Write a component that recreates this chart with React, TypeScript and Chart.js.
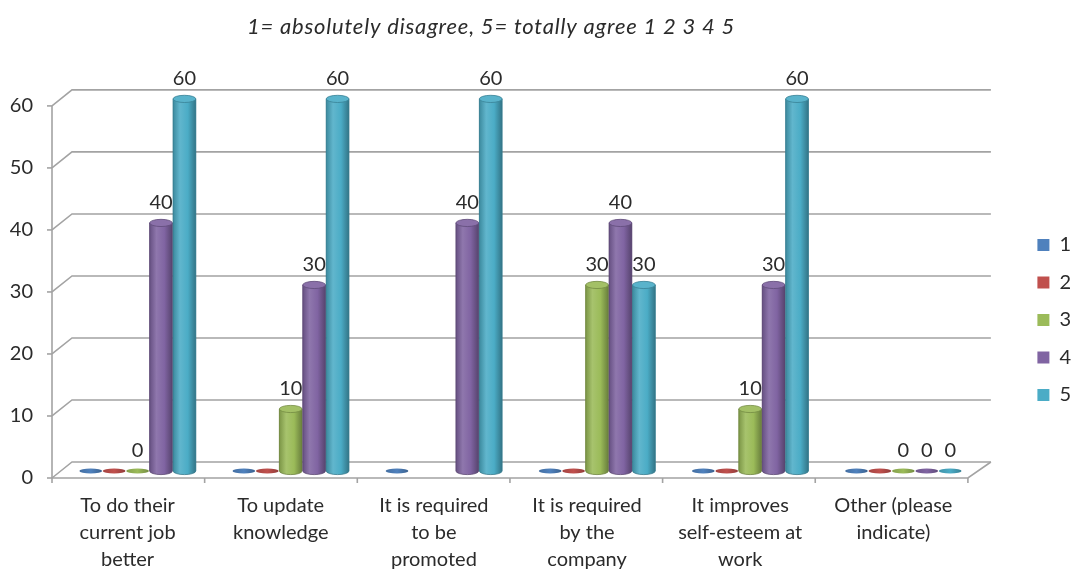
import React, { useEffect, useRef } from "react";
import { Chart, registerables } from "chart.js";

Chart.register(...registerables);

// ---- data ----
const titleText = "1= absolutely disagree, 5= totally agree 1 2 3 4 5";

const categories: string[][] = [
  ["To do their", "current job", "better"],
  ["To update", "knowledge"],
  ["It is required", "to be", "promoted"],
  ["It is required", "by the", "company"],
  ["It improves", "self-esteem at", "work"],
  ["Other (please", "indicate)"],
];

const seriesNames = ["1", "2", "3", "4", "5"];

const series1: (number | null)[] = [0, 0, 0, 0, 0, 0];
const series2: (number | null)[] = [0, 0, null, 0, 0, 0];
const series3: (number | null)[] = [0, 10, null, 30, 10, 0];
const series4: (number | null)[] = [40, 30, 40, 40, 30, 0];
const series5: (number | null)[] = [60, 60, 60, 30, 60, 0];

// which values carry a printed value label
const labelled1 = [false, false, false, false, false, false];
const labelled2 = [false, false, false, false, false, false];
const labelled3 = [true, true, false, true, true, true];
const labelled4 = [true, true, true, true, true, true];
const labelled5 = [true, true, true, true, true, true];

const yTicks = [0, 10, 20, 30, 40, 50, 60];

const seriesColors = ["#4F81BD", "#C0504D", "#9BBB59", "#8064A2", "#4BACC6"];

// ---- styling ----
const FONT = "Lato, 'Open Sans', sans-serif";
const TEXT = "#2b2b2b";
const GRID = "#a3a3a3";

function mix(hex: string, target: number, t: number) {
  const n = parseInt(hex.slice(1), 16);
  const r = (n >> 16) & 255;
  const g = (n >> 8) & 255;
  const b = n & 255;
  const f = (c: number) => Math.round(c + (target - c) * t);
  return `rgb(${f(r)},${f(g)},${f(b)})`;
}
const lighten = (h: string, t: number) => mix(h, 255, t);
const darken = (h: string, t: number) => mix(h, 0, t);

// 3D box offsets around the plot area
const FRONT_LEFT = -9;
const FRONT_RIGHT = -12;
const BACK_SHIFT = 11;
const FRONT_DY = 7;
const BACK_DY = -9;

const wallPlugin = {
  id: "wall3d",
  beforeDatasetsDraw(chart: any) {
    const { ctx, chartArea: a, scales } = chart;
    const y = scales.y;
    const fl = a.left + FRONT_LEFT;
    const fr = a.right + FRONT_RIGHT;
    const bl = a.left + BACK_SHIFT;
    const br = a.right + BACK_SHIFT;
    ctx.save();
    ctx.strokeStyle = GRID;
    ctx.lineWidth = 1.6;
    ctx.lineCap = "butt";
    yTicks.forEach((v) => {
      const p = y.getPixelForValue(v);
      ctx.beginPath();
      ctx.moveTo(fl, p + FRONT_DY);
      ctx.lineTo(bl, p + BACK_DY);
      ctx.lineTo(br, p + BACK_DY);
      ctx.stroke();
      ctx.beginPath();
      ctx.moveTo(fl - 5, p + FRONT_DY);
      ctx.lineTo(fl, p + FRONT_DY);
      ctx.stroke();
    });
    const p0 = y.getPixelForValue(0);
    const pTop = y.getPixelForValue(yTicks[yTicks.length - 1]);
    // front vertical axis
    ctx.beginPath();
    ctx.moveTo(fl, pTop + FRONT_DY);
    ctx.lineTo(fl, p0 + FRONT_DY);
    ctx.stroke();
    // floor front and right edges
    ctx.beginPath();
    ctx.moveTo(fl, p0 + FRONT_DY);
    ctx.lineTo(fr, p0 + FRONT_DY);
    ctx.lineTo(br, p0 + BACK_DY);
    ctx.stroke();
    // category separators on the floor edge
    const n = categories.length;
    for (let i = 0; i <= n; i++) {
      const px = a.left + (a.width * i) / n;
      const fx = fl + ((px - a.left) * (fr - fl)) / a.width;
      ctx.beginPath();
      ctx.moveTo(fx, p0 + FRONT_DY);
      ctx.lineTo(fx, p0 + FRONT_DY + 5);
      ctx.stroke();
    }
    ctx.restore();
  },
};

const labelSets = [labelled1, labelled2, labelled3, labelled4, labelled5];

const cylinderPlugin = {
  id: "cylinders",
  afterDatasetsDraw(chart: any) {
    const { ctx } = chart;
    ctx.save();
    chart.data.datasets.forEach((ds: any, di: number) => {
      const meta = chart.getDatasetMeta(di);
      if (meta.hidden) return;
      const base = seriesColors[di];
      meta.data.forEach((bar: any, j: number) => {
        const v = ds.data[j];
        if (v === null || v === undefined) return;
        const { x, y, base: b, width } = bar.getProps(["x", "y", "base", "width"], true);
        const rx = width / 2;
        const ry = 3.6;
        if (v === 0) {
          ctx.beginPath();
          ctx.ellipse(x, b, rx, 2.6, 0, 0, Math.PI * 2);
          const g = ctx.createLinearGradient(x - rx, 0, x + rx, 0);
          g.addColorStop(0, darken(base, 0.15));
          g.addColorStop(0.5, base);
          g.addColorStop(1, darken(base, 0.25));
          ctx.fillStyle = g;
          ctx.fill();
          return;
        }
        // body with rounded bottom
        const g = ctx.createLinearGradient(x - rx, 0, x + rx, 0);
        g.addColorStop(0, darken(base, 0.2));
        g.addColorStop(0.3, lighten(base, 0.12));
        g.addColorStop(0.65, base);
        g.addColorStop(1, darken(base, 0.32));
        ctx.beginPath();
        ctx.moveTo(x - rx, y);
        ctx.lineTo(x - rx, b);
        ctx.ellipse(x, b, rx, ry, 0, Math.PI, 0, true);
        ctx.lineTo(x + rx, y);
        ctx.closePath();
        ctx.fillStyle = g;
        ctx.fill();
        ctx.strokeStyle = darken(base, 0.3);
        ctx.lineWidth = 0.8;
        ctx.stroke();
        // top cap
        ctx.beginPath();
        ctx.ellipse(x, y, rx, ry, 0, 0, Math.PI * 2);
        ctx.fillStyle = lighten(base, 0.08);
        ctx.fill();
        ctx.strokeStyle = darken(base, 0.25);
        ctx.stroke();
      });
    });
    // value labels
    ctx.font = `20px ${FONT}`;
    ctx.fillStyle = TEXT;
    ctx.textAlign = "center";
    ctx.textBaseline = "middle";
    chart.data.datasets.forEach((ds: any, di: number) => {
      const meta = chart.getDatasetMeta(di);
      meta.data.forEach((bar: any, j: number) => {
        const v = ds.data[j];
        if (v === null || v === undefined || !labelSets[di][j]) return;
        const { x, y } = bar.getProps(["x", "y"], true);
        ctx.fillText(String(v), x, y - 20);
      });
    });
    ctx.restore();
  },
  afterDraw(chart: any) {
    const { ctx } = chart;
    ctx.save();
    ctx.font = `italic 22px ${FONT}`;
    (ctx as any).letterSpacing = "0.8px";
    ctx.fillStyle = TEXT;
    ctx.textAlign = "center";
    ctx.textBaseline = "middle";
    ctx.fillText(titleText, 491, 27);
    ctx.restore();
  },
};

export default function App() {
  const canvasRef = useRef<HTMLCanvasElement | null>(null);

  useEffect(() => {
    if (!canvasRef.current) return;
    const allSeries = [series1, series2, series3, series4, series5];
    const chart = new Chart(canvasRef.current, {
      type: "bar",
      data: {
        labels: categories,
        datasets: allSeries.map((d, i) => ({
          label: seriesNames[i],
          data: d,
          backgroundColor: seriesColors[i],
          borderWidth: 0,
          barPercentage: 0.97,
          categoryPercentage: 0.765,
        })),
      },
      options: {
        responsive: false,
        animation: false,
        devicePixelRatio: 1,
        layout: { padding: { top: 71, right: 0, bottom: 0, left: 0 } },
        plugins: {
          title: { display: false },
          tooltip: { enabled: false },
          legend: {
            position: "right",
            labels: {
              boxWidth: 12,
              boxHeight: 12,
              padding: 17.5,
              color: TEXT,
              font: { family: FONT, size: 20 },
            },
          },
        },
        scales: {
          x: {
            grid: { display: false, drawTicks: false },
            border: { display: false },
            ticks: {
              color: TEXT,
              font: { family: FONT, size: 20, lineHeight: 1.35 },
              padding: 21,
              labelOffset: -10,
              maxRotation: 0,
              autoSkip: false,
            },
            afterFit: (s: any) => {
              s.height = 98;
            },
          },
          y: {
            min: 0,
            max: 64.5,
            grid: { display: false, drawTicks: false },
            border: { display: false },
            ticks: {
              stepSize: 10,
              color: TEXT,
              font: { family: FONT, size: 20 },
              padding: 28,
              labelOffset: FRONT_DY,
              callback: (v: any) => (yTicks.includes(Number(v)) ? String(v) : null),
            },
            afterFit: (s: any) => {
              s.width = 61;
            },
          },
          gap: {
            type: "linear",
            position: "right",
            display: true,
            grid: { display: false, drawTicks: false },
            border: { display: false },
            ticks: { display: false },
            afterFit: (s: any) => {
              s.width = 40;
            },
          },
        },
      },
      plugins: [wallPlugin, cylinderPlugin],
    } as any);
    return () => chart.destroy();
  }, []);

  return (
    <div style={{ position: "absolute", left: 0, top: 0, width: 1081, height: 569, background: "#fff" }}>
      <canvas ref={canvasRef} width={1081} height={569} />
    </div>
  );
}
